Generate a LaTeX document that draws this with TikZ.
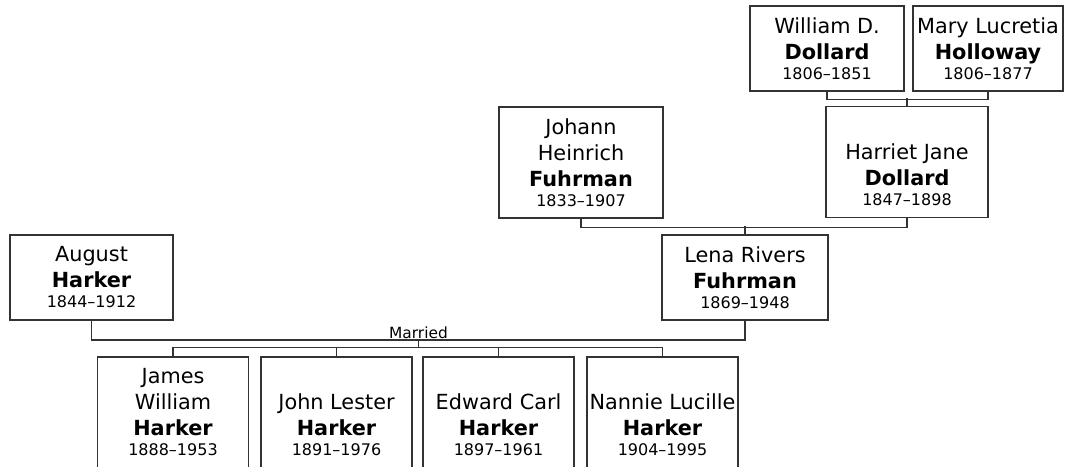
\documentclass[tikz,border=0pt]{standalone}
\usepackage{fontspec}
\setmainfont{DejaVu Sans}
\newcommand{\yrs}[1]{{\fontsize{16}{20}\selectfont #1}}

\begin{document}
\begin{tikzpicture}[
    x=1pt, y=-1pt,
    person/.style={rectangle, draw=black!80, line width=1.3pt, inner sep=0pt, align=center,
        font=\fontsize{20.8}{26}\selectfont},
    short/.style={person, minimum height=85pt},
    tall/.style={person, minimum height=111pt},
    link/.style={draw=black!80, line width=1.3pt},
    tag/.style={font=\fontsize{15.4}{18}\selectfont, inner sep=1pt}
]
    \useasboundingbox (0,0) rectangle (1073,466);

    % great-grandparents
    \node[short, minimum width=154pt] (wdollard) at (827, 48.5) {William D.\\\textbf{Dollard}\\[-6pt]\yrs{1806--1851}};
    \node[short, minimum width=150pt] (mholloway) at (988, 48.5) {Mary Lucretia\\\textbf{Holloway}\\[-6pt]\yrs{1806--1877}};

    % grandparents
    \node[tall, minimum width=164pt] (jhfuhrman) at (581, 162.5) {Johann\\Heinrich\\\textbf{Fuhrman}\\[-6pt]\yrs{1833--1907}};
    \node[tall, minimum width=162pt] (hjdollard) at (907, 162) {\vphantom{J}\\Harriet Jane\\\textbf{Dollard}\\[-6pt]\yrs{1847--1898}};

    % parents
    \node[short, minimum width=163pt] (aharker) at (91.5, 277.5) {August\\\textbf{Harker}\\[-6pt]\yrs{1844--1912}};
    \node[short, minimum width=166pt] (lrfuhrman) at (745, 277.5) {Lena Rivers\\\textbf{Fuhrman}\\[-6pt]\yrs{1869--1948}};

    % children
    \node[tall, minimum width=151pt] (jwharker) at (173, 412.5) {James\\William\\\textbf{Harker}\\[-6pt]\yrs{1888--1953}};
    \node[tall, minimum width=151pt] (jlharker) at (336.5, 412.5) {\vphantom{J}\\John Lester\\\textbf{Harker}\\[-6pt]\yrs{1891--1976}};
    \node[tall, minimum width=151pt] (echarker) at (498.5, 412.5) {\vphantom{J}\\Edward Carl\\\textbf{Harker}\\[-6pt]\yrs{1897--1961}};
    \node[tall, minimum width=151pt] (nlharker) at (662.5, 412.5) {\vphantom{J}\\Nannie Lucille\\\textbf{Harker}\\[-6pt]\yrs{1904--1995}};

    % family lines
    \draw[link] (wdollard.south) -- ++(0,8) -| (mholloway.south);
    \draw[link] (hjdollard.north) -- ++(0,-8);

    \draw[link] (jhfuhrman.south) -- ++(0,9) -| (hjdollard.south);
    \draw[link] (lrfuhrman.north) -- ++(0,-8);

    \coordinate (wed) at (418.5, 340);
    \draw[link] (aharker.south) |- (wed) -| (lrfuhrman.south);
    \node[tag, above] (married) at (wed) {Married};
    \draw[link] (wed) -- ++(0,8) coordinate (kids);

    \draw[link] (jwharker.north) -- ++(0,-9) -| (nlharker.north);
    \draw[link] (jlharker.north) -- ++(0,-9);
    \draw[link] (echarker.north) -- ++(0,-9);
\end{tikzpicture}
\end{document}
